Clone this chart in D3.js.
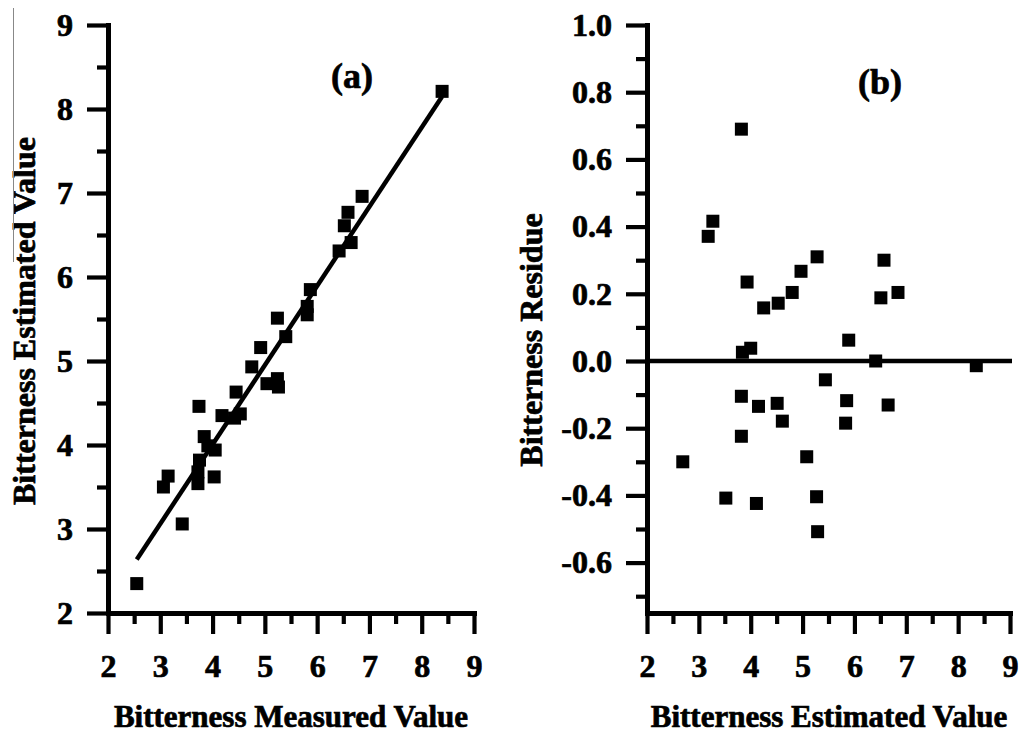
<!DOCTYPE html>
<html>
<head>
<meta charset="utf-8">
<script src="https://cdn.jsdelivr.net/npm/d3@7"></script>
<style>
body { margin: 0; background: #fff; }
text { font-family: "Liberation Serif", "Times New Roman", serif; font-weight: bold; fill: #000; stroke: #000; stroke-width: 0.7px; }
.tick text { font-size: 32px; }
.domain { stroke: #000; stroke-width: 5px; stroke-linecap: square; }
.tick line { stroke: #000; stroke-width: 4.2px; }
</style>
</head>
<body>
<svg id="chart" width="1030" height="733"></svg>
<script>

// panel (a): measured vs estimated
var measured  = [2.55, 3.06, 3.15, 3.42, 3.72, 3.72, 3.75, 3.74, 3.84, 3.91, 4.03, 4.05, 4.18, 4.42, 4.53, 4.45,
                 4.75, 4.92, 5.04, 5.24, 5.26, 5.24, 5.40, 5.81, 5.81, 5.87, 6.42, 6.65, 6.52, 6.59, 6.86, 8.39]
var estimated = [2.35, 3.50, 3.63, 3.06, 3.54, 3.68, 3.82, 4.46, 4.10, 3.99, 3.62, 3.94, 4.35, 4.32, 4.37, 4.63,
                 4.93, 5.16, 4.73, 4.79, 4.69, 5.51, 5.29, 5.55, 5.65, 5.85, 6.31, 6.41, 6.61, 6.77, 6.96, 8.21]

// fitted line of panel (a)
var fitRange = [2.55, 8.39]
var fitSlope = 0.944
var fitIntercept = 0.23

// panel (b): estimated vs residue
var residX = [3.82, 3.27, 3.18, 5.28, 4.97, 3.93, 4.80, 4.53, 4.25, 5.89, 4.00, 3.84, 6.57, 6.84, 6.51, 6.41,
              8.35, 5.44, 5.85, 6.65, 5.83, 3.82, 4.15, 4.51, 4.61, 3.82, 2.69, 5.08, 3.52, 4.11, 5.27, 5.29]
var residY = [0.69, 0.416, 0.371, 0.31, 0.267, 0.235, 0.204, 0.172, 0.158, 0.062, 0.038, 0.026, 0.30, 0.204, 0.188, 0.0,
              -0.014, -0.056, -0.118, -0.131, -0.185, -0.105, -0.135, -0.126, -0.179, -0.224, -0.30, -0.285, -0.408, -0.424, -0.404, -0.508]

var xTicks  = [2, 3, 4, 5, 6, 7, 8, 9]
var xMinor  = [2.5, 3.5, 4.5, 5.5, 6.5, 7.5, 8.5]
var yTicksA = [2, 3, 4, 5, 6, 7, 8, 9]
var yMinorA = [2.5, 3.5, 4.5, 5.5, 6.5, 7.5, 8.5]
var yTicksB = [-0.6, -0.4, -0.2, 0.0, 0.2, 0.4, 0.6, 0.8, 1.0]
var yMinorB = [-0.7, -0.5, -0.3, -0.1, 0.1, 0.3, 0.5, 0.7, 0.9]

var svg = d3.select("#chart")
var markSize = 13

function drawAxes(x, y, yTicks, yMinor, yFormat) {
	var x0 = x.range()[0], y0 = y.range()[0]

	// minor ticks first, then the major ones with labels
	svg.append("g")
		.attr("transform", "translate(0," + y0 + ")")
		.call(d3.axisBottom(x).tickValues(xMinor).tickSize(11).tickSizeOuter(0).tickFormat(""))
	svg.append("g")
		.attr("transform", "translate(" + x0 + ",0)")
		.call(d3.axisLeft(y).tickValues(yMinor).tickSize(11).tickSizeOuter(0).tickFormat(""))

	svg.append("g")
		.attr("transform", "translate(0," + y0 + ")")
		.call(d3.axisBottom(x).tickValues(xTicks).tickSize(21).tickSizeOuter(0).tickPadding(20)
			.tickFormat(function(d) { return d }))
	svg.append("g")
		.attr("transform", "translate(" + x0 + ",0)")
		.call(d3.axisLeft(y).tickValues(yTicks).tickSize(21).tickSizeOuter(0).tickPadding(14).tickFormat(yFormat))
}

function drawSquares(x, y, xs, ys) {
	svg.append("g")
		.selectAll("rect")
		.data(xs)
		.enter()
		.append("rect")
		.attr("x", function(d) { return x(d) - markSize / 2 })
		.attr("y", function(d, i) { return y(ys[i]) - markSize / 2 })
		.attr("width", markSize)
		.attr("height", markSize)
		.attr("fill", "#000")
}

// ---- panel (a)
var xa = d3.scaleLinear().domain([2, 9]).range([108, 474])
var ya = d3.scaleLinear().domain([2, 9]).range([613, 25])

drawAxes(xa, ya, yTicksA, yMinorA, function(d) { return d })

svg.append("line")
	.attr("x1", xa(fitRange[0])).attr("y1", ya(fitSlope * fitRange[0] + fitIntercept))
	.attr("x2", xa(fitRange[1])).attr("y2", ya(fitSlope * fitRange[1] + fitIntercept))
	.attr("stroke", "#000")
	.attr("stroke-width", 4.5)

drawSquares(xa, ya, measured, estimated)

svg.append("text").attr("x", 352).attr("y", 88)
	.attr("text-anchor", "middle").style("font-size", "36px").text("(a)")

svg.append("text").attr("transform", "translate(35,321) rotate(-90)")
	.attr("text-anchor", "middle").style("font-size", "32px").text("Bitterness Estimated Value")

svg.append("text").attr("x", 291).attr("y", 727)
	.attr("text-anchor", "middle").style("font-size", "31px").text("Bitterness Measured Value")

// thin grey edge left over from the source figure
svg.append("line")
	.attr("x1", 13.5).attr("y1", 8).attr("x2", 13.5).attr("y2", 262)
	.attr("stroke", "#888").attr("stroke-width", 1)

// ---- panel (b)
var xb = d3.scaleLinear().domain([2, 9]).range([647, 1010])
var yb = d3.scaleLinear().domain([-0.75, 1.0]).range([613, 25])

drawAxes(xb, yb, yTicksB, yMinorB, function(d) { return d.toFixed(1) })

svg.append("line")
	.attr("x1", xb(2)).attr("y1", yb(0))
	.attr("x2", xb(9) + 2).attr("y2", yb(0))
	.attr("stroke", "#000")
	.attr("stroke-width", 4.5)

drawSquares(xb, yb, residX, residY)

svg.append("text").attr("x", 880).attr("y", 94)
	.attr("text-anchor", "middle").style("font-size", "36px").text("(b)")

svg.append("text").attr("transform", "translate(542,340) rotate(-90)")
	.attr("text-anchor", "middle").style("font-size", "32px").text("Bitterness Residue")

svg.append("text").attr("x", 829).attr("y", 727)
	.attr("text-anchor", "middle").style("font-size", "31px").text("Bitterness Estimated Value")

</script>
</body>
</html>
